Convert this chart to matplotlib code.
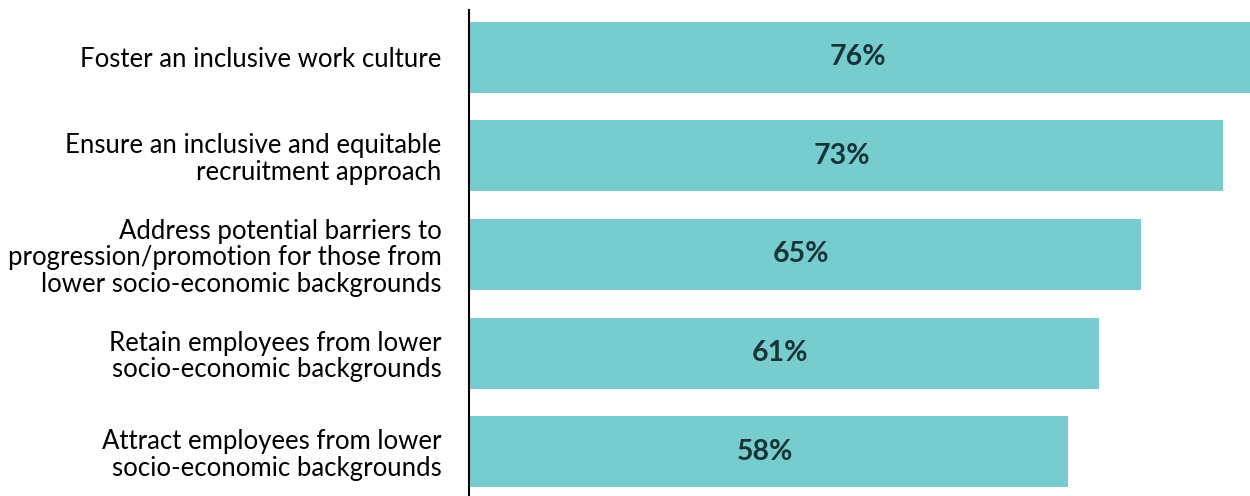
import matplotlib.pyplot as plt

categories = [
    "Foster an inclusive work culture",
    "Ensure an inclusive and equitable\nrecruitment approach",
    "Address potential barriers to\nprogression/promotion for those from\nlower socio-economic backgrounds",
    "Retain employees from lower\nsocio-economic backgrounds",
    "Attract employees from lower\nsocio-economic backgrounds",
]
values = [76, 73, 65, 61, 58]
bar_color = "#77CCCE"
text_color = "#16353b"

plt.rcParams['font.family'] = ['Lato', 'DejaVu Sans']

fig = plt.figure(figsize=(12.5, 4.96), dpi=100)
ax = fig.add_axes([0.3755, 0.0, 0.6245, 0.98])

pos = list(range(len(categories)))
ax.barh(pos, values, height=0.72, color=bar_color)
for p, v in zip(pos, values):
    ax.text(v / 2 - 0.4, p, f"{v}%", ha="center", va="center",
            fontsize=20.5, fontweight="bold", color=text_color)

ax.set_xlim(0, 75.6)
ax.set_ylim(4.45, -0.48)
ax.set_yticks(pos)
ax.set_yticklabels(categories, fontsize=18.5, linespacing=1.08)
ax.tick_params(axis="y", length=0, pad=20)
ax.set_xticks([])
for s in ["top", "right", "bottom"]:
    ax.spines[s].set_visible(False)
ax.spines["left"].set_linewidth(1.5)
ax.spines["left"].set_color("black")

fig.savefig("out.png", dpi=100)
